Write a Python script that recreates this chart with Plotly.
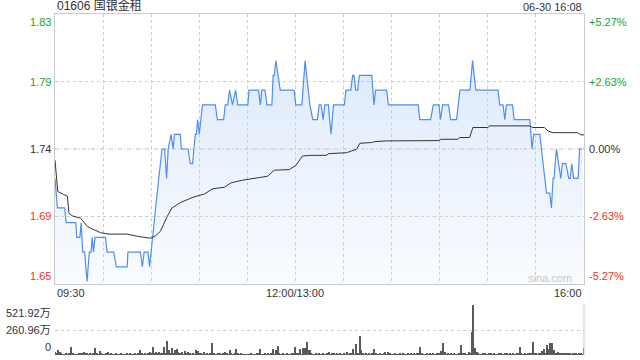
import plotly.graph_objects as go

# ---------------- data ----------------
prev_close = 1.74
price_min = [0, 1.5, 6, 7, 13, 13.5, 15.5, 16.3, 17.3, 18.5, 20, 21.4, 22.5, 23.2, 24, 25, 31.5, 32.5,
             36.6, 38.3, 45, 45.5, 53.3, 54.5, 55.6, 58, 59, 62.6, 64.7, 66.8, 68.4, 69.6, 70.6, 72.4,
             73.7, 74.5, 78.2, 78.8, 83, 84.4, 85.8, 87.5, 88.2, 89, 90, 92, 100, 101.3, 105.2, 106.2,
             107.8, 108.9, 110.7, 112.7, 114, 120.3, 121, 127, 128.1, 129, 131, 132.2, 135.3, 136.1,
             136.8, 137.8, 140.5, 149.2, 150.2, 154, 156, 159, 160.8, 163.7, 164.8, 166, 167.3, 168.3,
             170.5, 172.2, 173.7, 180.5, 181.5, 184.5, 185.7, 186.5, 187.6, 188.8, 189.9, 197.6, 199,
             200, 206.9, 208, 226.6, 227.6, 234.3, 236, 239.5, 240.5, 241.8, 245.5, 246.8, 250.5, 252.6,
             258.8, 260.5, 262.5, 276.4, 277.4, 279.5, 280.6, 281.6, 285.4, 286.4, 296.2, 297.6, 298.6,
             302.4, 304.5, 306.6, 308.6, 309.7, 310.7, 311.3, 312.8, 315.5, 316.5, 318.7, 320.5, 321.5,
             322.3, 323.6, 326.3, 327.3, 329]
price_val = [1.72, 1.70, 1.70, 1.69, 1.69, 1.68, 1.68, 1.69, 1.67, 1.67, 1.65, 1.67, 1.67, 1.68, 1.67, 1.68, 1.68, 1.67,
             1.67, 1.66, 1.66, 1.67, 1.67, 1.66, 1.67, 1.67, 1.66, 1.70, 1.72, 1.74, 1.74, 1.72, 1.74, 1.75,
             1.74, 1.75, 1.75, 1.74, 1.74, 1.73, 1.73, 1.75, 1.75, 1.76, 1.75, 1.77, 1.77, 1.76, 1.76, 1.77,
             1.77, 1.78, 1.77, 1.78, 1.77, 1.77, 1.78, 1.78, 1.77, 1.78, 1.78, 1.77, 1.77, 1.79,
             1.79, 1.80, 1.78, 1.78, 1.77, 1.77, 1.80, 1.77, 1.76, 1.76, 1.77, 1.77, 1.76, 1.77,
             1.77, 1.75, 1.77, 1.77, 1.78, 1.78, 1.79, 1.79, 1.78, 1.78, 1.79, 1.79, 1.77,
             1.78, 1.78, 1.77, 1.77, 1.76, 1.76, 1.77, 1.77, 1.76, 1.77, 1.77, 1.76, 1.76, 1.78,
             1.78, 1.80, 1.78, 1.78, 1.77, 1.77, 1.76, 1.77, 1.77, 1.76, 1.76, 1.74, 1.75,
             1.75, 1.73, 1.71, 1.71, 1.70, 1.72, 1.72, 1.74, 1.72, 1.73, 1.73, 1.72, 1.72,
             1.73, 1.72, 1.72, 1.74, 1.74]

avg_min = [0, 1.7, 5.5, 7.7, 8.7, 10.8, 16, 20.2, 23.3, 28.5, 33.7, 45, 52.3, 59.6, 62.6, 65.7, 69.9, 73,
           78.2, 86, 93.3, 98.4, 105.6, 109.8, 117, 124.3, 132.6, 136.8, 146.1, 150.2, 154.4, 159.6,
           169.4, 170.5, 181.9, 188.1, 190.2, 197.5, 199.5, 206.8, 239, 241, 251.3, 252.4, 258.6, 260.7,
           270, 271.1, 296, 298.1, 305.3, 307.4, 310.5, 326, 328.1, 330]
avg_val = [1.7325, 1.7112, 1.709, 1.708, 1.6964, 1.6946, 1.693, 1.6873, 1.6857, 1.6831, 1.6822, 1.6822,
           1.6805, 1.6794, 1.681, 1.684, 1.694, 1.700, 1.7036, 1.7072, 1.7095, 1.713, 1.714, 1.717, 1.7188,
           1.7202, 1.7215, 1.7256, 1.726, 1.7288, 1.7352, 1.7357, 1.7357, 1.7368, 1.7375, 1.7398, 1.7439,
           1.7444, 1.745, 1.7455, 1.7457, 1.7466, 1.7466, 1.7478, 1.7478, 1.7546, 1.7546, 1.7557, 1.7557,
           1.7546, 1.7546, 1.7523, 1.7511, 1.7511, 1.7496, 1.7496]

# volume per minute (unit: 万), minute 0 .. 330
volume = [
    30, 15, 52, 35, 12, 8, 10, 15, 6, 12, 87, 20, 8, 10, 6, 12, 15, 20, 35, 12, 15, 10, 20, 8, 12, 76, 15, 10, 42, 12,
    8, 10, 12, 31, 8, 15, 10, 6, 12, 8, 10, 15, 6, 10, 8, 12, 6, 15, 10, 8, 12, 10, 15, 52, 12, 8, 15, 10, 20, 31,
    15, 87, 20, 35, 15, 35, 20, 12, 87, 25, 149, 52, 20, 70, 15, 52, 63, 35, 20, 31, 10, 42, 15, 35, 12, 8, 15, 10, 52, 42,
    12, 15, 8, 35, 10, 12, 8, 15, 129, 12, 8, 10, 15, 12, 8, 15, 31, 12, 8, 52, 15, 10, 12, 63, 15, 10, 12, 8, 10, 6,
    10, 8, 12, 6, 10, 8, 12, 15, 63, 10, 8, 12, 10, 15, 8, 12, 63, 10, 52, 94, 15, 10, 12, 8, 10, 12, 8, 10, 12, 15,
    80, 12, 15, 63, 10, 73, 73, 136, 52, 52, 15, 10, 8, 12, 10, 15, 8, 12, 10, 8, 15, 31, 10, 12, 20, 8, 12, 10, 15, 8,
    12, 10, 31, 8, 12, 15, 63, 10, 115, 12, 198, 52, 12, 8, 15, 10, 12, 8, 20, 63, 12, 8, 10, 15, 8, 12, 31, 10, 31, 12,
    8, 10, 12, 8, 10, 15, 8, 12, 10, 8, 12, 10, 15, 8, 12, 10, 15, 12, 83, 12, 10, 8, 12, 10, 15, 8, 12, 10, 15, 20,
    15, 42, 125, 31, 10, 12, 8, 15, 10, 12, 8, 10, 15, 104, 20, 12, 15, 10, 31, 15, 243, 521.92, 70, 31, 12, 8, 10, 15, 12, 8,
    10, 12, 15, 8, 12, 10, 8, 15, 12, 10, 8, 12, 20, 10, 15, 8, 12, 10, 15, 12, 83, 15, 10, 12, 8, 15, 12, 15, 136, 20,
    12, 10, 15, 20, 42, 63, 20, 104, 63, 125, 125, 52, 25, 20, 31, 15, 25, 20, 15, 12, 20, 15, 8, 12, 20, 15, 10, 15, 12, 10,
    70,
]
vol_minutes = list(range(len(volume)))
vol_max = 521.92

left_ticks = ["1.65", "1.69", "1.74", "1.79", "1.83"]
right_ticks = ["-5.27%", "-2.63%", "0.00%", "+2.63%", "+5.27%"]
pct_levels = [-0.0527, -0.0263, 0.0, 0.0263, 0.0527]
vol_ticks = ["0", "260.96万", "521.92万"]
x_grid = [0, 30, 60, 90, 120, 150, 180, 210, 240, 270, 300, 330]
x_labels = ["09:30", "12:00/13:00", "16:00"]
x_label_pos = [0, 150, 330]
title_text = "01606 国银金租"
stamp_text = "06-30 16:08"

# ---------------- figure ----------------
GREEN = "#21a121"
RED = "#ee3124"
DARK = "#333333"
GRID = "#cccccc"
FONT = "Liberation Sans, Arial, Noto Sans CJK SC, sans-serif"

levels = [prev_close * (1 + p) for p in pct_levels]
ymin, ymax = levels[0], levels[-1]

fig = go.Figure()

# baseline for fill
fig.add_trace(go.Scatter(x=[0, 330], y=[ymin, ymin], mode="lines",
                         line=dict(width=0, color="rgba(0,0,0,0)"), hoverinfo="skip",
                         showlegend=False, xaxis="x", yaxis="y"))
fig.add_trace(go.Scatter(x=price_min, y=price_val, mode="lines",
                         line=dict(color="#4f8ef0", width=1.2),
                         fill="tonexty",
                         fillgradient=dict(type="vertical",
                                           colorscale=[[0, "rgba(200,220,250,0.12)"],
                                                       [1, "rgba(170,200,245,0.5)"]],
                                           start=ymin, stop=ymax),
                         showlegend=False, xaxis="x", yaxis="y"))
fig.add_trace(go.Scatter(x=avg_min, y=avg_val, mode="lines",
                         line=dict(color="#333333", width=1),
                         showlegend=False, xaxis="x", yaxis="y"))
fig.add_trace(go.Bar(x=vol_minutes, y=volume, marker=dict(color="#5a5a5a", line=dict(width=0)),
                     width=0.65, showlegend=False, xaxis="x2", yaxis="y2"))

H = 341.0
price_dom = [(355 - 284) / H, 1.0]
vol_dom = [0.0, 50 / H]

fig.update_layout(
    width=640, height=360,
    margin=dict(l=55, r=56, t=14, b=5),
    paper_bgcolor="white", plot_bgcolor="rgba(0,0,0,0)",
    font=dict(family=FONT, size=11, color=DARK),
    bargap=0,
    xaxis=dict(domain=[0, 1], range=[0, 330], tickvals=x_grid, showticklabels=False,
               showgrid=True, gridcolor=GRID, griddash="dot", gridwidth=1,
               showline=True, linecolor=GRID, linewidth=1, mirror=True, zeroline=False,
               anchor="y", ticks=""),
    yaxis=dict(domain=price_dom, range=[ymin, ymax], tickvals=[levels[1], levels[3]],
               showticklabels=False, showgrid=True, gridcolor=GRID, griddash="dot",
               showline=True, linecolor=GRID, linewidth=1, mirror=True, zeroline=False,
               anchor="x", ticks=""),
    xaxis2=dict(domain=[0, 1], range=[0, 330], showticklabels=False, showgrid=False,
                showline=False, zeroline=False, anchor="y2", ticks=""),
    yaxis2=dict(domain=vol_dom, range=[0, vol_max], tickvals=[vol_max / 2, vol_max],
                showticklabels=False, showgrid=True, gridcolor=GRID, griddash="dot",
                showline=False, zeroline=False, anchor="x2", ticks=""),
)

shapes = [
    dict(type="line", xref="paper", yref="y", x0=0, x1=1, y0=prev_close, y1=prev_close,
         line=dict(color="#bbbbbb", width=1, dash="4px,2px,1px,2px"), layer="below"),
    dict(type="line", xref="paper", yref="paper", x0=1, x1=1, y0=vol_dom[0], y1=vol_dom[1],
         line=dict(color=GRID, width=1)),
]
fig.update_layout(shapes=shapes)

ann = []
colors = [RED, RED, DARK, GREEN, GREEN]
anchors = ["bottom", "middle", "middle", "middle", "top"]
for lv, lt, rt, c, a in zip(levels, left_ticks, right_ticks, colors, anchors):
    ann.append(dict(xref="paper", yref="y", x=0, y=lv, text=lt, showarrow=False,
                    xanchor="right", yanchor=a, xshift=-2, font=dict(color=c, size=11)))
    ann.append(dict(xref="paper", yref="y", x=1, y=lv, text=rt, showarrow=False,
                    xanchor="left", yanchor=a, xshift=3, font=dict(color=c, size=11)))
for v, t, a in zip([0, vol_max / 2, vol_max], vol_ticks, ["bottom", "middle", "top"]):
    ann.append(dict(xref="paper", yref="y2", x=0, y=v, text=t, showarrow=False,
                    xanchor="right", yanchor=a, xshift=-2, font=dict(color=DARK, size=11)))
for pos, t, xa in zip(x_label_pos, x_labels, ["left", "center", "right"]):
    ann.append(dict(xref="x", yref="paper", x=pos, y=price_dom[0], text=t, showarrow=False,
                    xanchor=xa, yanchor="top", yshift=-1, font=dict(color=DARK, size=11)))
ann.append(dict(xref="paper", yref="paper", x=0, y=1, text=title_text, showarrow=False,
                xanchor="left", yanchor="bottom", yshift=-1, font=dict(color=DARK, size=12)))
ann.append(dict(xref="paper", yref="paper", x=1, y=1, text=stamp_text, showarrow=False,
                xanchor="right", yanchor="bottom", yshift=-1, font=dict(color=DARK, size=11)))
ann.append(dict(xref="paper", yref="y", x=1, y=ymin, text="sina.com", showarrow=False,
                xanchor="right", yanchor="bottom", xshift=-10, yshift=-2,
                font=dict(color="#c8c8c8", size=11)))
fig.update_layout(annotations=ann)

fig.write_html("out.html")
